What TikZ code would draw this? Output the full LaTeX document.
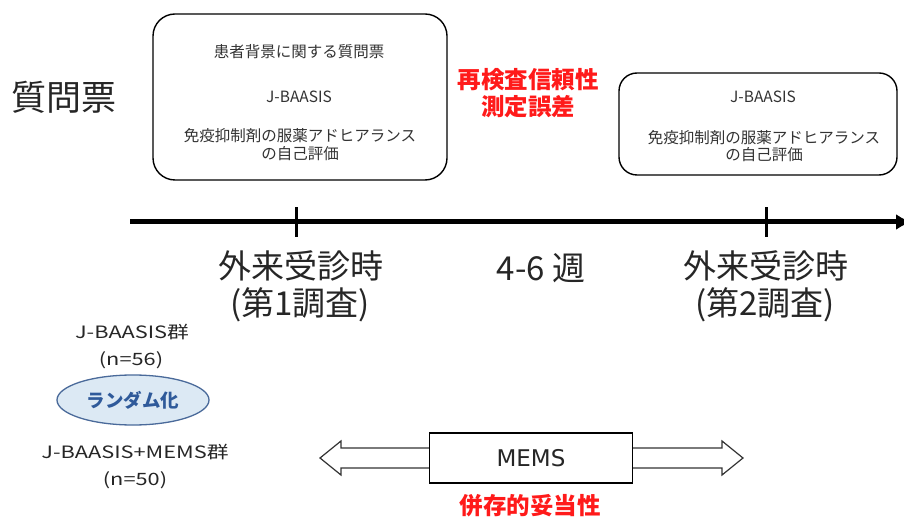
\documentclass[tikz,border=0pt]{standalone}
\usepackage{fontspec}
\setmainfont{Noto Sans CJK JP}
\newfontfamily\grpfont[FakeStretch=1.28]{Noto Sans CJK JP}
\newfontfamily\memsfont{DejaVu Sans}
\usetikzlibrary{shapes.geometric,arrows.meta}
\definecolor{boxtxt}{HTML}{333333}
\definecolor{redtxt}{HTML}{FF1A1A}
\definecolor{ellfill}{HTML}{DCE9F4}
\definecolor{elldraw}{HTML}{4A6A9A}
\definecolor{elltxt}{HTML}{2F5A9A}
\tikzset{
  qbox/.style={draw=black, line width=1.4pt, rounded corners=22pt},
  smalltxt/.style={text=boxtxt, font=\fontsize{15.5}{18}\selectfont, align=center, inner sep=0},
  bigtxt/.style={text=black!85, font=\fontsize{33}{38}\selectfont, align=center, inner sep=0},
  redlbl/.style={text=redtxt, font=\bfseries\fontsize{23.5}{27}\selectfont, align=center, inner sep=0},
  grptxt/.style={text=black!85, font=\grpfont\fontsize{17}{20}\selectfont, align=center, inner sep=0},
  tick/.style={line width=3pt},
  arrowoutline/.style={draw=black!80, line width=1.2pt, fill=white, line join=miter},
}
\begin{document}
\begin{tikzpicture}[x=1pt,y=-1pt]
\useasboundingbox[fill=white] (0,0) rectangle (904,518);

% title
\node[bigtxt, font=\fontsize{35}{40}\selectfont] (title) at (64,97) {質問票};

% boxes
\draw[qbox] (153,14) rectangle (447,180);
\node[smalltxt] (b1a) at (299,52) {患者背景に関する質問票};
\node[smalltxt] (b1b) at (299,97) {J-BAASIS};
\node[smalltxt] (b1c) at (300,136) {免疫抑制剤の服薬アドヒアランス};
\node[smalltxt] (b1d) at (300,154) {の自己評価};

\draw[qbox, rounded corners=18pt] (619,73) rectangle (897,175);
\node[smalltxt] (b2a) at (763,97) {J-BAASIS};
\node[smalltxt] (b2c) at (764,138) {免疫抑制剤の服薬アドヒアランス};
\node[smalltxt] (b2d) at (764,155) {の自己評価};

% red labels
\node[redlbl] (rel1) at (528,80) {再検査信頼性};
\node[redlbl] (rel2) at (528,107) {測定誤差};

% axis
\coordinate (axL) at (130,222);
\coordinate (axR) at (912,222);
\draw[line width=5pt, -{Latex[length=16pt,width=16pt]}] (axL) -- (axR);
\coordinate (t1) at (296,222);
\coordinate (t2) at (766,222);
\draw[tick] ([yshift=-15pt]t1) -- ([yshift=15pt]t1);
\draw[tick] ([yshift=-15pt]t2) -- ([yshift=15pt]t2);

% time labels
\node[bigtxt] (v1a) at (301,266) {外来受診時};
\node[bigtxt] (v1b) at (300,305) {(第1調査)};
\node[bigtxt] (wk) at (541,268) {4-6 週};
\node[bigtxt] (v2a) at (766,266) {外来受診時};
\node[bigtxt] (v2b) at (765,305) {(第2調査)};

% groups
\node[grptxt] (g1) at (132,332) {J-BAASIS群};
\node[grptxt] (g1n) at (131,360) {(n=56)};
\node[ellipse, draw=elldraw, line width=1.3pt, fill=ellfill, minimum width=152pt, minimum height=50pt, inner sep=0,
      text=elltxt, font=\bfseries\fontsize{18.5}{22}\selectfont] (rand) at (133,400) {ランダム化};
\node[grptxt] (g2) at (135,452) {J-BAASIS+MEMS群};
\node[grptxt] (g2n) at (135,480) {(n=50)};

% MEMS double arrow
\draw[arrowoutline] (432,448) -- (341,448) -- (341,441) -- (320,458) -- (341,475) -- (341,468) -- (432,468);
\draw[arrowoutline] (631,448) -- (722,448) -- (722,441) -- (743,458) -- (722,475) -- (722,468) -- (631,468);
\node[draw=black, line width=1.4pt, fill=white, minimum width=203pt, minimum height=50pt, inner sep=0,
      font=\memsfont\fontsize{23}{26}\selectfont, text=black!85] (mems) at (531,458) {MEMS};

\node[redlbl] (conc) at (530,506) {併存的妥当性};
\end{tikzpicture}
\end{document}
